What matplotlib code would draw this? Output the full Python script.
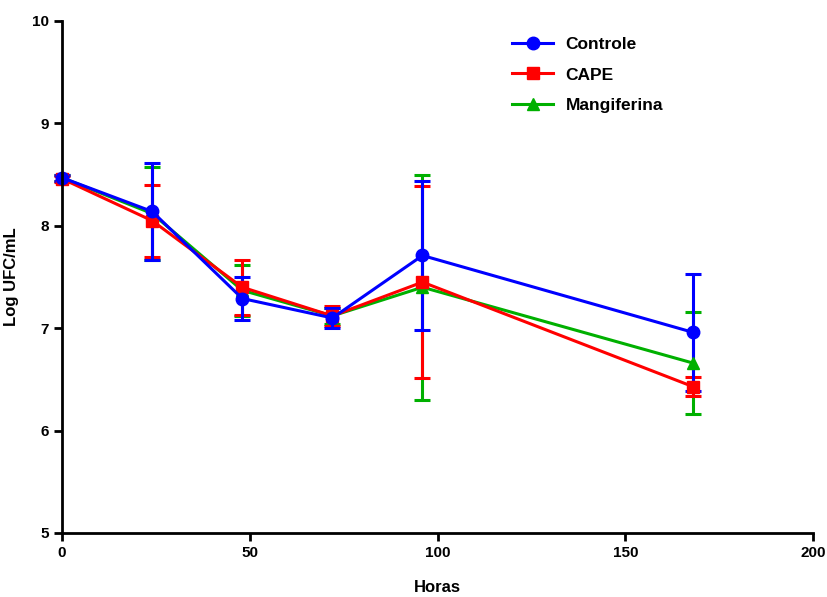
import numpy as np
import matplotlib
matplotlib.use('Agg')
import matplotlib.pyplot as plt
from matplotlib.lines import Line2D

plt.rcParams['font.family'] = ['Liberation Sans', 'DejaVu Sans']
plt.rcParams['font.weight'] = 'bold'

horas = [0, 24, 48, 72, 96, 168]

controle = [8.47, 8.14, 7.29, 7.10, 7.71, 6.96]
controle_err = [0.03, 0.47, 0.21, 0.10, 0.73, 0.57]

cape = [8.46, 8.05, 7.40, 7.12, 7.45, 6.43]
cape_err = [0.03, 0.35, 0.27, 0.10, 0.94, 0.09]

mangiferina = [8.47, 8.12, 7.37, 7.12, 7.40, 6.66]
mangiferina_err = [0.03, 0.45, 0.25, 0.08, 1.10, 0.50]

fig = plt.figure(figsize=(8.27, 5.97), dpi=100)
ax = fig.add_axes([62 / 827, 1 - 533 / 597, (813 - 62) / 827, (533 - 21) / 597])

series = [
    ('Mangiferina', mangiferina, mangiferina_err, '#00b000', '^'),
    ('CAPE', cape, cape_err, '#ff0000', 's'),
    ('Controle', controle, controle_err, '#0000ff', 'o'),
]

handles = {}
for name, y, err, color, marker in series:
    ax.errorbar(horas, y, yerr=err, color=color, marker=marker, markersize=9,
                linewidth=2.2, elinewidth=2.2, capsize=6, capthick=2.2,
                clip_on=False)
    handles[name] = Line2D([], [], color=color, marker=marker, markersize=9,
                           linewidth=2.2)

ax.set_xlim(0, 200)
ax.set_ylim(5, 10)
ax.set_xticks([0, 50, 100, 150, 200])
ax.set_yticks([5, 6, 7, 8, 9, 10])

for s in ['top', 'right']:
    ax.spines[s].set_visible(False)
for s in ['left', 'bottom']:
    ax.spines[s].set_linewidth(2)

ax.tick_params(axis='both', direction='out', width=2, length=6, labelsize=11)
for lbl in ax.get_xticklabels() + ax.get_yticklabels():
    lbl.set_fontweight('bold')

ax.set_xlabel('Horas', fontsize=12, fontweight='bold', labelpad=14)
ax.set_ylabel('Log UFC/mL', fontsize=12, fontweight='bold', labelpad=12)
ax.yaxis.set_label_coords(-0.057, 0.5)

order = ['Controle', 'CAPE', 'Mangiferina']
leg = ax.legend([handles[n] for n in order], order, loc='upper left',
                bbox_to_anchor=(0.578, 1.0), frameon=False, fontsize=12.5,
                handlelength=2.4, labelspacing=0.9, handletextpad=0.7)
for t in leg.get_texts():
    t.set_fontweight('bold')

fig.savefig('out.png', dpi=100)
